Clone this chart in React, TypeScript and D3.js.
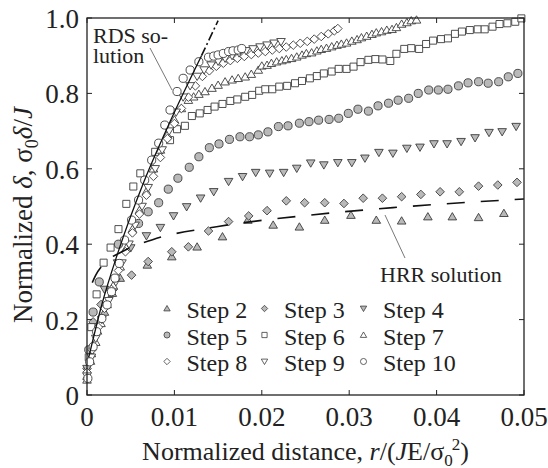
import React from "react";
import * as d3 from "d3";

const xTicks = [0, 0.01, 0.02, 0.03, 0.04, 0.05];
const xTickLabels = ["0", "0.01", "0.02", "0.03", "0.04", "0.05"];
const yTicks = [0, 0.2, 0.4, 0.6, 0.8, 1.0];
const yTickLabels = ["0", "0.2", "0.4", "0.6", "0.8", "1.0"];

const step2: [number, number][] = [
  [0, 0.05], [0.0005, 0.11], [0.0012, 0.17], [0.002, 0.22], [0.0029, 0.27], [0.0038, 0.31],
  [0.0069, 0.345], [0.0097, 0.367], [0.0126, 0.393], [0.0155, 0.42], [0.0184, 0.464],
  [0.0213, 0.451], [0.0243, 0.446], [0.0272, 0.464], [0.0302, 0.477], [0.0331, 0.464],
  [0.036, 0.462], [0.039, 0.473], [0.0418, 0.473], [0.0448, 0.471], [0.0477, 0.482],
];
const step3: [number, number][] = [
  [0, 0.07], [0.0007, 0.194], [0.0016, 0.24], [0.003, 0.28], [0.0051, 0.318], [0.007, 0.354],
  [0.0097, 0.38], [0.0116, 0.393], [0.0139, 0.435], [0.0162, 0.46], [0.0185, 0.475],
  [0.0206, 0.489], [0.0228, 0.515], [0.0249, 0.51], [0.0272, 0.51], [0.0294, 0.508],
  [0.0316, 0.522], [0.0338, 0.522], [0.036, 0.526], [0.0382, 0.532], [0.0404, 0.539],
  [0.0426, 0.539], [0.0448, 0.554], [0.047, 0.557], [0.0492, 0.564],
];
const step4: [number, number][] = [
  [0, 0.07], [0.0008, 0.18], [0.002, 0.28], [0.0035, 0.35], [0.005, 0.39],
  [0.0068, 0.422], [0.0084, 0.444], [0.0099, 0.475], [0.0114, 0.499], [0.013, 0.522],
  [0.0145, 0.539], [0.0162, 0.566], [0.0178, 0.579], [0.0193, 0.59], [0.0209, 0.588],
  [0.0225, 0.59], [0.024, 0.601], [0.0256, 0.615], [0.0271, 0.61], [0.0287, 0.616],
  [0.0303, 0.616], [0.0318, 0.628], [0.0334, 0.643], [0.035, 0.641], [0.0366, 0.654],
  [0.0381, 0.657], [0.0397, 0.666], [0.0412, 0.666], [0.0428, 0.672], [0.0444, 0.682],
  [0.046, 0.696], [0.0475, 0.698], [0.0491, 0.712],
];
const step5: [number, number][] = [
  [0.0002, 0.12], [0.0007, 0.22], [0.0014, 0.3], [0.0036, 0.4],
  [0.0059, 0.455], [0.007, 0.486], [0.0082, 0.51], [0.0093, 0.546], [0.0104, 0.575],
  [0.0117, 0.604], [0.0128, 0.632], [0.014, 0.656], [0.0151, 0.666], [0.0163, 0.678],
  [0.0175, 0.685], [0.0186, 0.685], [0.0196, 0.69], [0.0207, 0.698], [0.0219, 0.712],
  [0.023, 0.714], [0.0243, 0.721], [0.0254, 0.725], [0.0265, 0.729], [0.0277, 0.731],
  [0.0288, 0.734], [0.0299, 0.747], [0.031, 0.758], [0.0322, 0.753], [0.0333, 0.767],
  [0.0345, 0.774], [0.0356, 0.782], [0.0368, 0.787], [0.0379, 0.8], [0.0391, 0.809],
  [0.0402, 0.809], [0.0413, 0.811], [0.0425, 0.82], [0.0436, 0.828], [0.0448, 0.831],
  [0.0459, 0.827], [0.0471, 0.831], [0.0482, 0.844], [0.0493, 0.853],
];
const step6: [number, number][] = [
  [0.0002, 0.1], [0.0005, 0.18], [0.0011, 0.267], [0.0019, 0.351], [0.0027, 0.391],
  [0.0036, 0.44], [0.0045, 0.507], [0.0053, 0.553], [0.0061, 0.588], [0.0078, 0.645],
  [0.0095, 0.676], [0.0103, 0.705], [0.0112, 0.714], [0.012, 0.74], [0.0129, 0.747],
  [0.0138, 0.756], [0.0146, 0.765], [0.0155, 0.772], [0.0164, 0.78], [0.0172, 0.784],
  [0.0181, 0.791], [0.0189, 0.796], [0.0197, 0.807], [0.0204, 0.811], [0.0212, 0.811],
  [0.022, 0.818], [0.0229, 0.82], [0.0238, 0.827], [0.0246, 0.833], [0.0255, 0.84],
  [0.0263, 0.846], [0.0271, 0.853], [0.028, 0.858], [0.0288, 0.865], [0.0297, 0.865],
  [0.0305, 0.871], [0.0313, 0.883], [0.0322, 0.889], [0.033, 0.891], [0.0338, 0.89],
  [0.0347, 0.886], [0.0354, 0.905], [0.0363, 0.918], [0.0371, 0.92], [0.038, 0.918],
  [0.0388, 0.931], [0.0396, 0.94], [0.0405, 0.944], [0.0413, 0.946], [0.0421, 0.958],
  [0.0429, 0.964], [0.0438, 0.968], [0.0447, 0.97], [0.0455, 0.97], [0.0464, 0.977],
  [0.0472, 0.984], [0.0481, 0.986], [0.049, 0.99], [0.0497, 0.999],
];
const step7: [number, number][] = [
  [0, 0.04], [0.0004, 0.09], [0.001, 0.14], [0.0016, 0.19], [0.0023, 0.24], [0.003, 0.29],
  [0.0038, 0.34], [0.0045, 0.39], [0.0052, 0.44], [0.006, 0.49], [0.0068, 0.54],
  [0.0076, 0.6], [0.0084, 0.65], [0.0092, 0.69], [0.01, 0.73], [0.0108, 0.76],
  [0.0116, 0.782], [0.0122, 0.791], [0.0128, 0.798], [0.0135, 0.805], [0.0143, 0.814],
  [0.015, 0.822], [0.0158, 0.831], [0.0166, 0.836], [0.0173, 0.84], [0.0181, 0.844],
  [0.0188, 0.851], [0.0196, 0.862], [0.02, 0.873], [0.0206, 0.875], [0.0211, 0.88],
  [0.0217, 0.884], [0.0223, 0.887], [0.0228, 0.89], [0.0234, 0.893], [0.024, 0.897],
  [0.0246, 0.902], [0.0251, 0.906], [0.0257, 0.908], [0.0263, 0.913], [0.0268, 0.917],
  [0.0274, 0.92], [0.028, 0.924], [0.0286, 0.928], [0.0291, 0.931], [0.0297, 0.934],
  [0.0303, 0.939], [0.0309, 0.943], [0.0314, 0.948], [0.032, 0.952], [0.0326, 0.957],
  [0.0331, 0.961], [0.0337, 0.964], [0.0343, 0.968], [0.0349, 0.97], [0.0354, 0.975],
  [0.036, 0.984], [0.0366, 0.988], [0.0371, 0.993], [0.0377, 0.995],
];
const step8: [number, number][] = [
  [0, 0.06], [0.0006, 0.12], [0.0013, 0.18], [0.002, 0.23], [0.0028, 0.28], [0.0036, 0.33],
  [0.0044, 0.38], [0.0052, 0.43], [0.006, 0.48], [0.0068, 0.53], [0.0076, 0.58],
  [0.0084, 0.63], [0.0092, 0.68], [0.01, 0.72], [0.0108, 0.76], [0.0116, 0.79],
  [0.0124, 0.82], [0.0132, 0.845], [0.014, 0.86], [0.0148, 0.872], [0.0156, 0.88],
  [0.0164, 0.887], [0.0172, 0.893], [0.018, 0.898], [0.0188, 0.903], [0.0196, 0.907],
  [0.0204, 0.911], [0.0212, 0.915], [0.022, 0.919], [0.0228, 0.923], [0.0236, 0.928],
  [0.0244, 0.933], [0.0252, 0.938], [0.026, 0.944], [0.0268, 0.951], [0.0276, 0.958],
  [0.0283, 0.966], [0.0287, 0.972],
];
const step9: [number, number][] = [
  [0, 0.05], [0.0005, 0.1], [0.001, 0.15], [0.0017, 0.2], [0.0025, 0.25], [0.0033, 0.3],
  [0.004, 0.35], [0.0048, 0.4], [0.0055, 0.45], [0.0063, 0.5], [0.007, 0.55],
  [0.0078, 0.6], [0.0086, 0.65], [0.0094, 0.7], [0.0102, 0.75], [0.011, 0.79],
  [0.0118, 0.82], [0.0126, 0.845], [0.0134, 0.862], [0.0142, 0.875], [0.015, 0.885],
  [0.0158, 0.893], [0.0166, 0.9], [0.0174, 0.907], [0.0182, 0.913], [0.019, 0.918],
  [0.0198, 0.923], [0.0206, 0.928], [0.0214, 0.933], [0.0222, 0.937],
];
const step10: [number, number][] = [
  [0.0001, 0.044], [0.0003, 0.088], [0.0007, 0.128], [0.0011, 0.168], [0.0017, 0.203],
  [0.0023, 0.239], [0.0028, 0.274], [0.0032, 0.31], [0.0037, 0.349], [0.0043, 0.411],
  [0.0051, 0.464], [0.0059, 0.517], [0.0066, 0.57], [0.0074, 0.623], [0.0082, 0.668],
  [0.0089, 0.716], [0.0095, 0.756], [0.0103, 0.805], [0.011, 0.84], [0.0118, 0.862],
  [0.0128, 0.884], [0.0139, 0.896], [0.0145, 0.899], [0.015, 0.902], [0.0156, 0.906],
  [0.0162, 0.911], [0.0167, 0.913], [0.0173, 0.915], [0.0177, 0.919],
];

const rdsSolid: [number, number][] = [
  [0.0002, 0.1], [0.0017, 0.24], [0.0035, 0.375], [0.0065, 0.565], [0.0096, 0.73], [0.0131, 0.9],
];
const rdsDashDot: [number, number][] = [[0.0131, 0.9], [0.015, 0.993]];
const hrrLine: [number, number][] = [
  [0.0006, 0.298], [0.001, 0.318], [0.0018, 0.345], [0.004, 0.38], [0.0075, 0.412],
  [0.015, 0.447], [0.025, 0.476], [0.035, 0.497], [0.05, 0.52],
];

type Shape = "triUp" | "triDown" | "diamond" | "square" | "circle";
const seriesNames = ["Step 2", "Step 3", "Step 4", "Step 5", "Step 6", "Step 7", "Step 8", "Step 9", "Step 10"];
const seriesData = [step2, step3, step4, step5, step6, step7, step8, step9, step10];
const seriesShapes: Shape[] = ["triUp", "diamond", "triDown", "circle", "square", "triUp", "diamond", "triDown", "circle"];
const seriesGray = [true, true, true, true, false, false, false, false, false];

const W = 548, H = 468;
const x = d3.scaleLinear().domain([0, 0.05]).range([87, 524]);
const y = d3.scaleLinear().domain([0, 1]).range([395, 18]);

function shapePath(shape: Shape, s: number): string {
  const h = s / 2;
  switch (shape) {
    case "triUp":
      return `M0,${-h * 0.95}L${h},${h * 0.75}L${-h},${h * 0.75}Z`;
    case "triDown":
      return `M0,${h * 0.95}L${h},${-h * 0.75}L${-h},${-h * 0.75}Z`;
    case "diamond":
      return `M0,${-h}L${h},0L0,${h}L${-h},0Z`;
    case "square":
      return `M${-h * 0.82},${-h * 0.82}H${h * 0.82}V${h * 0.82}H${-h * 0.82}Z`;
    default:
      return `M${h * 0.95},0A${h * 0.95},${h * 0.95} 0 1,1 ${-h * 0.95},0A${h * 0.95},${h * 0.95} 0 1,1 ${h * 0.95},0Z`;
  }
}

const GRAY = "#b9b9b9";
const STROKE = "#3c3c3c";
const SERIF = `"Liberation Serif", monospace`;

function T(props: any) {
  const { children, ...rest } = props;
  return (
    <text fill="#222" {...rest} fontFamily="Liberation Serif" style={{ fontFamily: SERIF }}>
      {children}
    </text>
  );
}

export default function App() {
  const line = d3.line<[number, number]>().x((d) => x(d[0])).y((d) => y(d[1]));
  const curve = d3.line<[number, number]>().x((d) => x(d[0])).y((d) => y(d[1])).curve(d3.curveMonotoneX);
  const legendCols = [167, 264.5, 363.5];
  const legendRows = [308.5, 335, 361.5];
  return (
    <svg width={W} height={H} style={{ position: "absolute", left: 0, top: 0, background: "#fff" }}>
      {seriesData.map((data, i) => (
        <g key={i}>
          {data.map((d, j) => (
            <path
              key={j}
              d={shapePath(seriesShapes[i], 8.6)}
              transform={`translate(${x(d[0])},${y(d[1])})`}
              fill={seriesGray[i] ? GRAY : "#fff"}
              stroke={STROKE}
              strokeWidth={0.9}
            />
          ))}
        </g>
      ))}
      <path d={curve(rdsSolid) || ""} fill="none" stroke="#111" strokeWidth={1.3} />
      <path d={line(rdsDashDot) || ""} fill="none" stroke="#111" strokeWidth={1.6} strokeDasharray="9,3,2,3" />
      <path d={curve(hrrLine) || ""} fill="none" stroke="#111" strokeWidth={1.6} strokeDasharray="18,16" />
      <T x={93} y={43} fontSize={22}>RDS so-</T>
      <T x={93} y={63} fontSize={22}>lution</T>
      <line x1={150} y1={48} x2={172} y2={90} stroke="#555" strokeWidth={0.8} />
      <T x={380} y={282} fontSize={22}>HRR solution</T>
      <line x1={385} y1={215} x2={405} y2={258} stroke="#555" strokeWidth={0.8} />
      {seriesNames.map((name, i) => {
        const col = i % 3, row = Math.floor(i / 3);
        const cx = legendCols[col], cy = legendRows[row];
        return (
          <g key={name}>
            <path d={shapePath(seriesShapes[i], 6.4)} transform={`translate(${cx},${cy})`}
              fill={seriesGray[i] ? GRAY : "#fff"} stroke={STROKE} strokeWidth={0.8} />
            <T x={cx + 19.5} y={cy + 9.5} fontSize={24}>{name}</T>
          </g>
        );
      })}
      <rect x={87} y={18} width={437} height={377} fill="none" stroke="#222" strokeWidth={1.3} />
      {xTicks.map((t, i) => (
        <g key={"xt" + i}>
          <line x1={x(t)} x2={x(t)} y1={395} y2={390} stroke="#222" strokeWidth={1} />
          <line x1={x(t)} x2={x(t)} y1={18} y2={23} stroke="#222" strokeWidth={1} />
          <T x={x(t)} y={426} fontSize={27} textAnchor="middle">{xTickLabels[i]}</T>
        </g>
      ))}
      {yTicks.map((t, i) => (
        <g key={"yt" + i}>
          <line x1={87} x2={92} y1={y(t)} y2={y(t)} stroke="#222" strokeWidth={1} />
          <line x1={524} x2={519} y1={y(t)} y2={y(t)} stroke="#222" strokeWidth={1} />
          <T x={79} y={y(t) + 10} fontSize={27} textAnchor="end">{yTickLabels[i]}</T>
        </g>
      ))}
      <T x={305.5} y={460} fontSize={26} textAnchor="middle">
        Normalized distance, <tspan fontStyle="italic">r</tspan>/(<tspan fontStyle="italic">J</tspan>E/σ
        <tspan fontSize={17} dy={6}>0</tspan>
        <tspan fontSize={17} dy={-16} dx={-1}>2</tspan>
        <tspan dy={10}>)</tspan>
      </T>
      <T transform="translate(32,215) rotate(-90)" fontSize={27} textAnchor="middle">
        Normalized <tspan fontStyle="italic">δ</tspan>, σ<tspan fontSize={18} dy={6}>0</tspan>
        <tspan dy={-6} fontStyle="italic">δ</tspan>/<tspan fontStyle="italic">J</tspan>
      </T>
    </svg>
  );
}
